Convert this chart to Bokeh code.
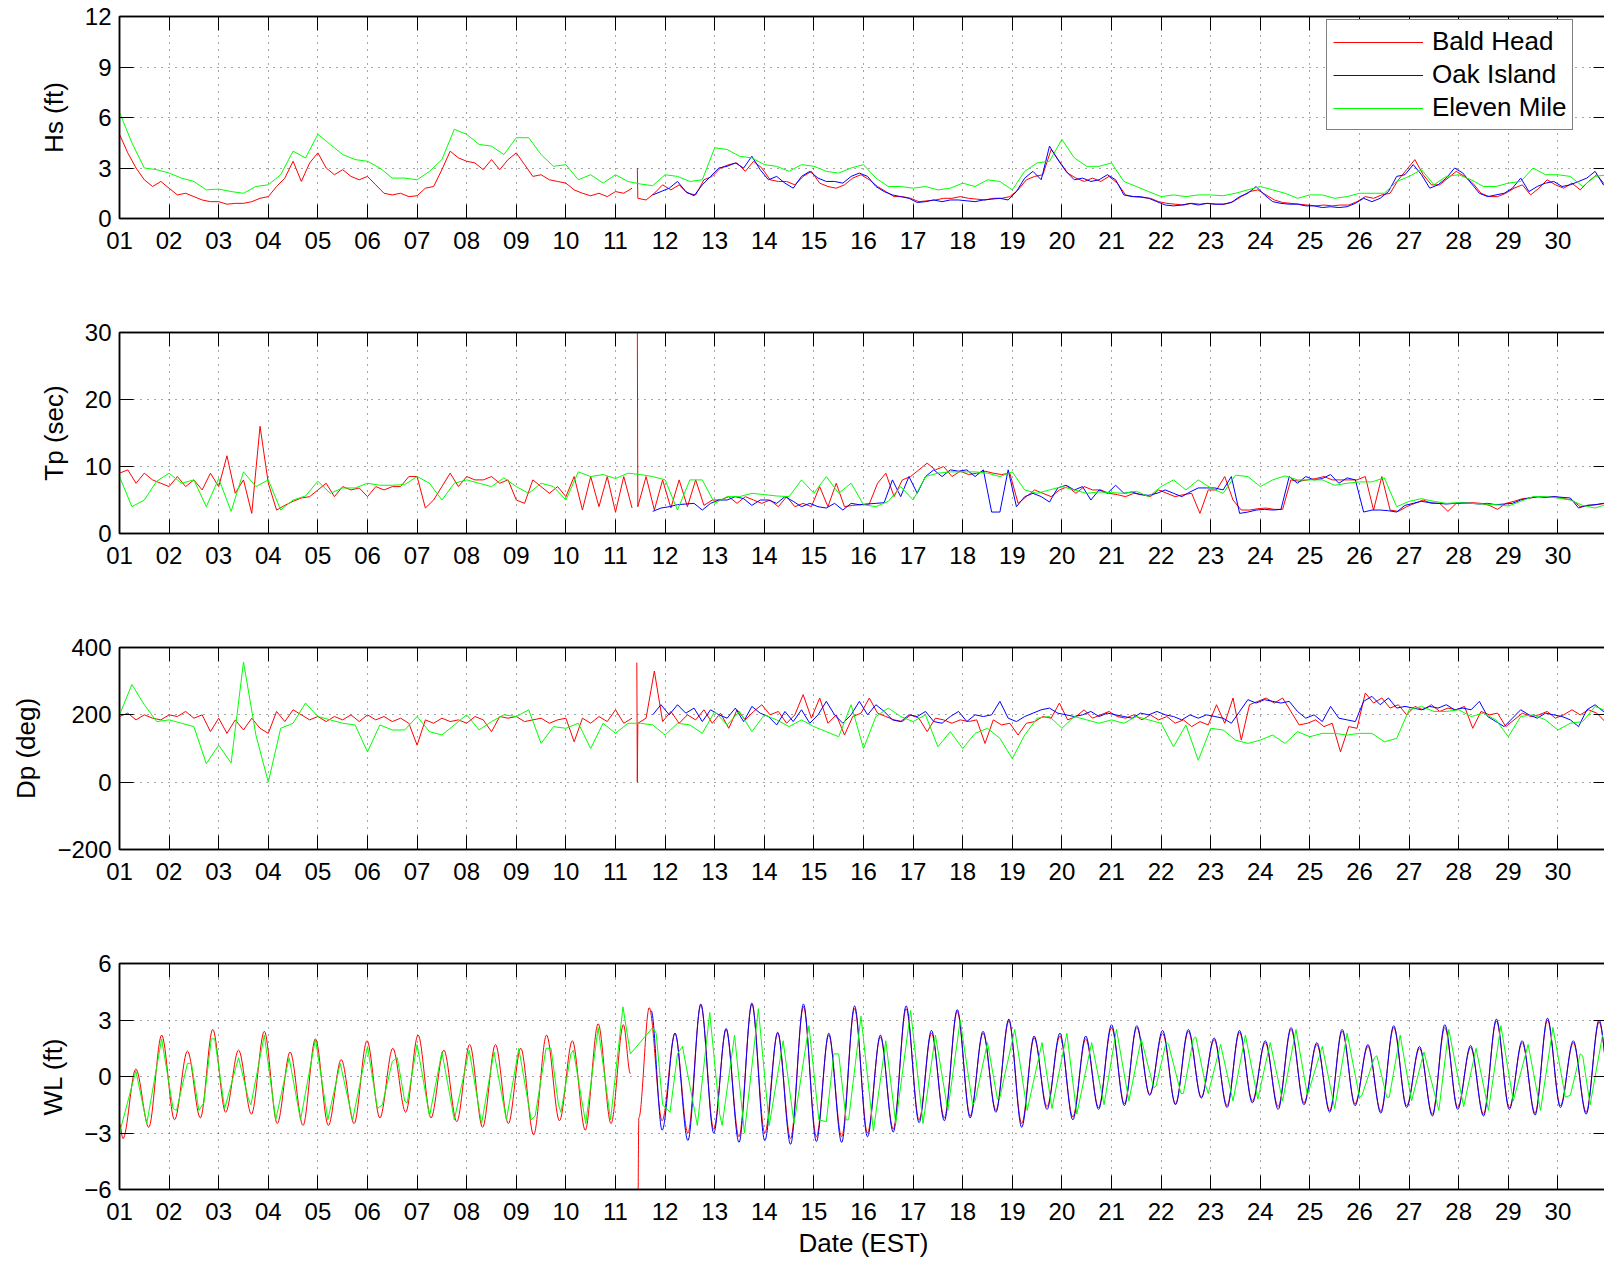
import numpy as np
from bokeh.plotting import figure
from bokeh.models import Range1d, FixedTicker, LinearAxis, Legend, LegendItem
from bokeh.layouts import column
from bokeh.embed import file_html
from bokeh.resources import INLINE

FONT = "Liberation Sans"
RED, BLUE, GREEN = "#ff0000", "#0000ff", "#00ff00"

# ---------------- x axis: days ----------------
DAYS = list(range(1, 31))
DAY_LABELS = ["%02d" % d for d in DAYS]
STEP_BH = 1.0 / 6.0      # Bald Head / Oak Island sampling (days)
STEP_EM = 0.25           # Eleven Mile sampling (days)
BH_A_START = 1.0
BH_B_START = 11.45
OAK_START = 11.75
EM_START = 1.0

# ---------------- Hs (ft) ----------------
HS_BALD_A = [5.0, 3.9, 3.0, 2.3, 1.9, 2.2,
             1.8, 1.4, 1.5, 1.3, 1.1, 1.0,
             1.0, 0.85, 0.9, 0.9, 1.0, 1.2,
             1.3, 1.9, 2.4, 3.4, 2.2, 3.3,
             3.9, 3.0, 2.6, 2.9, 2.5, 2.3,
             2.5, 2.0, 1.5, 1.4, 1.5, 1.3,
             1.35, 1.8, 1.9, 2.9, 4.0, 3.6,
             3.4, 3.3, 2.9, 3.5, 2.9, 3.5,
             3.9, 3.2, 2.5, 2.6, 2.3, 2.2,
             2.1, 1.7, 1.5, 1.35, 1.5, 1.3,
             1.6, 1.5, 1.8]
HS_BALD_HEAD_T = [11.44]
HS_BALD_HEAD = [3.0]
HS_BALD_B = [1.2, 1.1, 1.5, 2.0, 1.7, 2.0,
             1.5, 1.4, 2.3, 2.5, 3.0, 3.2,
             3.3, 2.8, 3.4, 3.0, 2.3, 2.2,
             2.2, 2.0, 2.5, 2.8, 2.1, 1.9,
             1.8, 2.0, 2.4, 2.6, 2.3, 1.9,
             1.6, 1.3, 1.3, 1.2, 1.0, 1.05,
             1.1, 1.2, 1.2, 1.3, 1.2, 1.15,
             1.1, 1.2, 1.2, 1.3, 1.7, 2.3,
             2.5, 2.6, 4.1, 3.4, 2.7, 2.4,
             2.2, 2.4, 2.2, 2.5, 2.1, 1.4,
             1.3, 1.25, 1.2, 1.0, 0.9, 0.85,
             0.8, 0.9, 0.85, 0.9, 0.85, 0.85,
             1.0, 1.3, 1.6, 1.7, 1.4, 1.1,
             0.95, 0.9, 0.85, 0.8, 0.75, 0.8,
             0.75, 0.8, 0.8, 1.0, 1.3, 1.2,
             1.4, 1.5, 2.3, 2.9, 3.5, 2.6,
             2.0, 2.0, 2.4, 2.8, 2.5, 2.1,
             1.5, 1.3, 1.3, 1.5, 1.8, 2.0,
             1.4, 1.8, 2.3, 2.0, 1.8, 2.1,
             1.7, 2.2, 2.6, 2.0, 2.2]
HS_OAK = [1.4, 1.6, 1.8, 2.2, 1.6, 1.35,
          2.0, 2.5, 3.0, 3.1, 3.3, 3.0,
          3.7, 2.9, 2.3, 2.5, 2.1, 1.8,
          2.5, 2.8, 2.4, 2.2, 2.2, 2.1,
          2.5, 2.7, 2.5, 1.9, 1.6, 1.4,
          1.3, 1.2, 0.95, 1.0, 1.1, 1.0,
          1.1, 1.1, 1.05, 1.0, 1.1, 1.15,
          1.2, 1.1, 1.6, 2.4, 2.8, 2.3,
          4.3, 3.5, 2.8, 2.3, 2.4, 2.2,
          2.3, 2.6, 2.3, 1.4, 1.3, 1.3,
          1.2, 1.0, 0.8, 0.75, 0.8, 0.9,
          0.8, 0.9, 0.85, 0.85, 0.95, 1.3,
          1.5, 1.9, 1.4, 1.0, 0.9, 0.85,
          0.85, 0.75, 0.75, 0.65, 0.7, 0.65,
          0.7, 0.9, 1.2, 1.0, 1.2, 1.6,
          2.5, 2.6, 3.2, 2.6, 1.8, 2.0,
          2.4, 3.0, 2.7, 2.1, 1.5, 1.3,
          1.4, 1.5, 1.8, 2.4, 1.6, 1.9,
          2.1, 2.2, 1.9, 2.0, 2.2, 2.4,
          2.8, 2.0, 2.2]
HS_ELEVEN = [6.3, 4.5, 3.0, 2.9,
             2.7, 2.4, 2.2, 1.7,
             1.75, 1.6, 1.5, 1.9,
             2.0, 2.6, 4.0, 3.6,
             5.0, 4.4, 3.8, 3.5,
             3.4, 3.0, 2.4, 2.4,
             2.3, 2.8, 3.5, 5.3,
             5.0, 4.4, 4.3, 3.8,
             4.8, 4.8, 3.8, 3.1,
             3.2, 2.3, 2.6, 2.1,
             2.6, 2.2, 2.05, 1.95,
             2.6, 2.5, 2.2, 2.3,
             4.2, 4.1, 3.7, 3.6,
             3.2, 3.1, 2.8, 3.2,
             3.1, 2.8, 2.7, 3.0,
             3.2, 2.4, 1.9, 1.9,
             1.8, 1.9, 1.7, 1.8,
             2.1, 1.9, 2.3, 2.2,
             1.7, 2.8, 3.3, 3.4,
             4.7, 3.6, 3.1, 3.1,
             3.3, 2.2, 1.9, 1.6,
             1.3, 1.4, 1.3, 1.4,
             1.4, 1.35, 1.5, 1.7,
             1.9, 1.7, 1.5, 1.2,
             1.4, 1.4, 1.2, 1.3,
             1.5, 1.5, 1.5, 2.2,
             2.5, 2.9, 2.0, 2.5,
             2.6, 2.3, 1.9, 1.9,
             2.1, 2.2, 3.0, 2.6,
             2.6, 2.5, 1.9, 2.5,
             2.6]

# ---------------- Tp (sec) ----------------
TP_BALD_A = [9.0, 9.5, 7.5, 9.0, 8.0, 7.5,
             7.0, 8.5, 7.0, 8.0, 6.5, 9.0,
             7.0, 11.6, 6.0, 8.0, 3.0, 16.0,
             7.5, 3.5, 4.2, 4.8, 5.3, 5.5,
             6.5, 7.5, 5.5, 7.0, 6.5, 6.8,
             5.5, 7.0, 6.5, 7.0, 7.0, 8.5,
             8.5, 3.8, 5.0, 7.0, 9.0, 7.0,
             8.5, 8.0, 8.0, 8.5, 7.5, 8.0,
             5.0, 4.5, 8.0, 7.0, 6.0, 7.0,
             5.5, 8.5, 3.5, 8.5, 4.0, 8.5,
             3.2, 8.5, 3.8]
TP_BALD_HEAD_T = [11.44]
TP_BALD_HEAD = [31.0]
TP_BALD_B = [4.0, 8.5, 3.5, 8.0, 3.8, 8.0,
             4.0, 8.0, 4.2, 5.0, 5.0, 5.5,
             4.5, 5.5, 5.0, 4.5, 5.0, 4.0,
             5.5, 4.0, 4.5, 4.0, 7.0, 4.0,
             7.5, 4.0, 4.2, 4.3, 4.4, 7.5,
             9.0, 5.5, 8.0, 8.5, 9.5, 10.5,
             9.5, 10.0, 8.5, 9.3, 8.8, 9.0,
             9.3, 9.0, 8.8, 9.0, 4.5, 5.5,
             6.5, 6.0, 5.5, 6.5, 7.0, 6.0,
             7.0, 6.5, 6.5, 6.0, 5.8, 5.5,
             6.0, 5.8, 5.5, 6.5, 6.0, 5.5,
             5.8, 6.0, 3.0, 6.5, 6.5, 8.5,
             5.0, 3.5, 3.5, 3.7, 3.8, 3.6,
             3.6, 8.0, 7.8, 8.0, 8.2, 8.5,
             8.0, 8.0, 8.0, 8.0, 8.5, 3.5,
             8.5, 3.5, 3.3, 4.0, 4.5, 5.0,
             4.5, 4.5, 3.3, 4.5, 4.5, 4.6,
             4.5, 4.2, 3.6, 4.5, 4.8, 5.2,
             5.3, 5.5, 5.4, 5.5, 5.2, 5.0,
             4.0, 4.2, 4.3, 4.5, 4.5]
TP_OAK = [3.3, 3.8, 4.0, 4.3, 4.4, 4.5,
          3.5, 4.5, 5.0, 5.0, 5.5, 5.2,
          4.2, 5.0, 5.0, 4.5, 5.5, 4.8,
          4.0, 4.5, 4.0, 3.8, 4.5, 3.5,
          4.5, 4.3, 4.4, 4.5, 4.6, 8.0,
          5.5, 8.5, 6.0, 8.5, 9.5, 8.5,
          9.5, 9.3, 9.5, 8.5, 9.5, 3.2,
          3.2, 9.5, 4.0, 5.5, 6.0, 5.5,
          4.7, 6.8, 7.2, 6.5, 7.0, 5.0,
          6.5, 6.0, 7.2, 6.0, 6.2, 5.8,
          5.7, 6.0, 6.5, 6.0, 5.5, 6.2,
          6.8, 6.8, 6.8, 6.5, 8.5, 3.0,
          3.2, 3.5, 3.6, 3.5, 3.6, 8.5,
          7.5, 8.5, 8.0, 8.2, 8.8, 7.5,
          8.3, 8.0, 3.2, 3.5, 3.5, 3.4,
          3.2, 4.2, 4.5, 4.8, 4.6, 4.5,
          4.4, 4.5, 4.6, 4.5, 4.4, 4.5,
          4.3, 4.4, 4.5, 5.0, 5.3, 5.5,
          5.4, 5.5, 5.4, 5.3, 3.8, 4.2,
          4.3, 4.5, 4.5]
TP_ELEVEN = [8.5, 4.0, 5.0, 7.8,
             9.0, 7.5, 8.0, 4.0,
             8.2, 3.3, 9.2, 7.0,
             8.0, 3.5, 5.0, 5.6,
             7.8, 6.0, 6.8, 6.8,
             7.5, 7.2, 7.2, 7.3,
             8.5, 7.5, 5.0, 7.5,
             8.0, 7.5, 7.0, 8.3,
             7.0, 6.0, 7.5, 7.0,
             5.0, 9.2, 8.5, 8.8,
             8.2, 9.0, 8.8, 8.5,
             8.0, 3.5, 8.0, 8.0,
             4.5, 5.5, 5.5, 6.0,
             5.8, 5.6, 5.5, 8.0,
             6.0, 8.5, 6.0, 7.5,
             4.3, 4.0, 4.8, 7.0,
             5.0, 8.5, 9.0, 9.2,
             9.2, 9.2, 9.0, 8.5,
             9.2, 6.5, 6.0, 6.5,
             7.0, 6.5, 6.0, 6.2,
             6.1, 6.0, 6.3, 5.5,
             7.0, 8.0, 6.5, 8.0,
             6.8, 6.0, 8.7, 8.5,
             7.0, 8.0, 8.6, 8.0,
             8.0, 8.0, 7.2, 7.5,
             7.7, 7.7, 8.3, 4.0,
             4.8, 5.2, 4.8, 4.5,
             4.6, 4.5, 4.4, 4.3,
             4.1, 4.8, 5.5, 5.5,
             5.3, 5.0, 4.2, 3.8,
             4.4]

# ---------------- Dp (deg) ----------------
DP_BALD_A = [195, 205, 185, 200, 190, 185,
             200, 195, 210, 190, 200, 150,
             190, 145, 185, 155, 190, 160,
             145, 210, 180, 215, 200, 185,
             195, 180, 195, 185, 200, 180,
             200, 185, 195, 180, 190, 175,
             110, 185, 175, 190, 180, 185,
             175, 195, 185, 150, 195, 190,
             195, 180, 185, 190, 175, 185,
             190, 120, 190, 175, 195, 180,
             215, 175, 190]
DP_BALD_HEAD_T = [11.43, 11.44]
DP_BALD_HEAD = [355, 0]
DP_BALD_B = [175, 190, 330, 180, 210, 175,
             200, 185, 215, 175, 205, 160,
             215, 185, 210, 230, 200, 210,
             175, 200, 260, 190, 250, 175,
             200, 140, 195, 205, 250, 205,
             195, 185, 180, 200, 190, 150,
             190, 185, 175, 185, 180, 185,
             115, 185, 170, 175, 140, 175,
             180, 195, 190, 235, 185, 195,
             215, 190, 200, 210, 195, 190,
             200, 185, 200, 185, 195, 175,
             185, 165, 180, 170, 230, 175,
             250, 125, 230, 240, 250, 235,
             250, 210, 170, 175, 185, 165,
             175, 90, 165, 160, 265, 235,
             250, 220, 230, 200, 225, 215,
             230, 210, 220, 215, 225, 160,
             210, 200, 205, 165, 185, 205,
             195, 200, 210, 190, 200, 215,
             200, 215, 205, 180, 200]
DP_OAK = [200, 230, 200, 230, 205, 220,
          180, 215, 200, 190, 220, 180,
          225, 205, 195, 170, 210, 180,
          215, 175, 200, 240, 200, 175,
          200, 240, 200, 230, 210, 185,
          180, 200, 195, 210, 180, 175,
          195, 210, 180, 200, 195, 200,
          240, 190, 180, 195, 205, 215,
          220, 205, 200, 195, 200, 210,
          195, 205, 200, 195, 190, 205,
          200, 210, 200, 195, 185, 200,
          190, 200, 195, 190, 175, 210,
          245, 235, 245, 240, 235, 240,
          210, 190, 200, 180, 225, 190,
          185, 180, 240, 255, 230, 250,
          220, 225, 220, 215, 225, 220,
          230, 215, 220, 215, 240, 195,
          180, 165, 190, 215, 200, 190,
          205, 200, 195, 185, 165, 215,
          230, 210, 205]
DP_ELEVEN = [200, 290, 230, 180,
             185, 175, 165, 55,
             110, 57, 357, 140,
             0, 160, 175, 235,
             195, 185, 175, 170,
             90, 170, 155, 155,
             195, 150, 140, 170,
             200, 155, 180, 200,
             195, 215, 115, 165,
             160, 175, 100, 175,
             145, 175, 175, 170,
             140, 175, 170, 145,
             210, 170, 210, 150,
             200, 185, 165, 185,
             165, 150, 135, 230,
             100, 195, 220, 195,
             180, 200, 105, 150,
             100, 145, 160, 130,
             70, 140, 190, 195,
             160, 195, 185, 175,
             185, 175, 195, 185,
             175, 105, 170, 65,
             160, 155, 125, 115,
             125, 140, 115, 150,
             135, 145, 145, 140,
             145, 145, 120, 130,
             215, 225, 210, 210,
             215, 195, 205, 185,
             135, 195, 200, 185,
             155, 175, 180, 225,
             210]

# ---------------- WL (ft): (day, value) at tide turning points ----------------
WL_BALD_A = [(1.00, -2.5), (1.07, -3.3), (1.33, 0.4), (1.59, -2.7), (1.85, 2.2), (2.11, -2.3),
             (2.37, 1.35), (2.63, -2.2), (2.88, 2.5), (3.14, -1.9), (3.40, 1.4), (3.66, -2.0),
             (3.92, 2.4), (4.18, -2.5), (4.44, 1.3), (4.70, -2.6), (4.95, 2.0), (5.21, -2.6),
             (5.47, 0.9), (5.73, -2.5), (5.99, 1.9), (6.25, -2.2), (6.51, 1.5), (6.77, -1.9),
             (7.02, 2.2), (7.28, -2.2), (7.54, 1.4), (7.80, -2.4), (8.06, 1.7), (8.32, -2.7),
             (8.58, 1.7), (8.84, -2.5), (9.09, 1.5), (9.35, -3.1), (9.61, 2.2), (9.87, -2.35),
             (10.13, 1.9), (10.39, -2.85), (10.65, 2.8), (10.91, -2.5), (11.16, 2.75), (11.30, 0.15)]
WL_BALD_B = [(11.45, -7.5), (11.47, -2.2), (11.68, 3.65), (11.94, -2.35), (12.20, 2.3), (12.46, -3.0),
             (12.72, 3.8), (12.98, -2.8), (13.23, 2.5), (13.49, -3.2), (13.75, 3.85), (14.01, -3.0),
             (14.27, 2.3), (14.53, -3.3), (14.79, 3.7), (15.05, -3.2), (15.30, 2.2), (15.56, -3.2),
             (15.82, 3.6), (16.08, -3.0), (16.34, 2.1), (16.60, -2.8), (16.86, 3.6), (17.12, -2.3),
             (17.37, 2.3), (17.63, -2.2), (17.89, 3.45), (18.15, -2.1), (18.41, 2.3), (18.67, -1.8),
             (18.93, 2.95), (19.19, -2.5), (19.44, 2.05), (19.70, -1.6), (19.96, 2.15), (20.22, -2.15),
             (20.48, 2.0), (20.74, -1.65), (21.00, 2.6), (21.26, -1.45), (21.51, 2.6), (21.77, -0.95),
             (22.03, 2.3), (22.29, -1.45), (22.55, 2.4), (22.81, -1.1), (23.07, 1.95), (23.33, -1.55),
             (23.58, 2.35), (23.84, -1.3), (24.10, 1.8), (24.36, -1.6), (24.62, 2.5), (24.88, -1.4),
             (25.14, 1.7), (25.40, -1.8), (25.65, 2.4), (25.91, -1.45), (26.17, 1.6), (26.43, -1.85),
             (26.69, 2.6), (26.95, -1.55), (27.21, 1.5), (27.47, -2.0), (27.72, 2.6), (27.98, -1.65),
             (28.24, 1.55), (28.50, -2.0), (28.76, 2.95), (29.02, -1.65), (29.28, 1.8), (29.54, -1.95),
             (29.79, 3.0), (30.05, -1.55), (30.31, 1.8), (30.57, -1.9), (30.83, 2.9), (31.09, -1.5)]
WL_OAK = [(11.72, 3.5), (11.94, -2.85), (12.20, 2.3), (12.46, -3.4), (12.72, 3.85), (12.98, -3.0),
          (13.23, 2.55), (13.49, -3.5), (13.75, 3.9), (14.01, -3.4), (14.27, 2.35), (14.53, -3.6),
          (14.79, 3.85), (15.05, -3.45), (15.30, 2.3), (15.56, -3.5), (15.82, 3.75), (16.08, -3.2),
          (16.34, 2.2), (16.60, -2.95), (16.86, 3.75), (17.12, -2.45), (17.37, 2.45), (17.63, -2.35),
          (17.89, 3.55), (18.15, -2.2), (18.41, 2.4), (18.67, -1.9), (18.93, 3.05), (19.19, -2.7),
          (19.44, 2.15), (19.70, -1.75), (19.96, 2.3), (20.22, -2.3), (20.48, 2.15), (20.74, -1.75),
          (21.00, 2.75), (21.26, -1.55), (21.51, 2.7), (21.77, -1.0), (22.03, 2.45), (22.29, -1.5),
          (22.55, 2.5), (22.81, -1.15), (23.07, 2.05), (23.33, -1.65), (23.58, 2.45), (23.84, -1.4),
          (24.10, 1.9), (24.36, -1.75), (24.62, 2.6), (24.88, -1.5), (25.14, 1.8), (25.40, -1.9),
          (25.65, 2.5), (25.91, -1.55), (26.17, 1.7), (26.43, -1.95), (26.69, 2.7), (26.95, -1.65),
          (27.21, 1.6), (27.47, -2.1), (27.72, 2.75), (27.98, -1.75), (28.24, 1.65), (28.50, -2.1),
          (28.76, 3.05), (29.02, -1.75), (29.28, 1.9), (29.54, -2.05), (29.79, 3.1), (30.05, -1.65),
          (30.31, 1.9), (30.57, -2.0), (30.83, 3.0), (31.09, -1.6)]
WL_ELEVEN = [(1.00, -3.0), (1.33, 0.3), (1.55, -2.5), (1.85, 2.0), (2.08, -1.7), (2.15, -1.8),
             (2.37, 0.7), (2.45, 0.7), (2.60, -1.8), (2.70, -1.4), (2.85, 2.0), (2.92, 2.0),
             (3.12, -1.7), (3.40, 1.0), (3.60, -1.2), (3.65, -1.5), (3.92, 2.2), (4.15, -2.3),
             (4.42, 1.0), (4.65, -2.3), (4.95, 2.0), (5.20, -2.3), (5.45, 0.7), (5.70, -2.3),
             (6.00, 1.6), (6.20, -1.7), (6.30, -1.5), (6.50, 0.8), (6.60, 1.0), (6.75, -1.3),
             (6.80, -1.4), (7.00, 1.7), (7.25, -2.1), (7.50, 1.3), (7.75, -2.3), (8.05, 1.4),
             (8.30, -2.5), (8.55, 1.3), (8.80, -2.3), (9.05, 1.5), (9.30, -2.3), (9.38, -2.1),
             (9.60, 1.5), (9.70, 1.5), (9.85, -1.5), (9.90, -1.9), (10.10, 1.2), (10.15, 1.4),
             (10.40, -2.5), (10.65, 2.6), (10.90, -2.3), (11.15, 3.7), (11.30, 1.2), (11.75, 2.6),
             (11.82, 2.3), (11.95, -1.5), (12.10, -1.9), (12.25, 1.2), (12.35, 1.6), (12.60, -1.9),
             (12.65, -2.6), (12.90, 3.4), (13.10, -2.0), (13.15, -2.6), (13.40, 2.2), (13.60, -3.0),
             (13.88, 3.6), (14.10, -2.6), (14.38, 1.9), (14.60, -2.5), (14.90, 2.7), (15.10, -2.3),
             (15.25, -2.4), (15.40, 1.2), (15.50, 1.2), (15.65, -2.3), (15.70, -2.3), (15.95, 3.2),
             (16.20, -2.9), (16.45, 1.9), (16.65, -2.5), (16.95, 3.5), (17.20, -2.5), (17.45, 2.2),
             (17.70, -1.8), (17.95, 3.0), (18.20, -1.5), (18.25, -1.3), (18.50, 1.8), (18.70, -1.2),
             (18.75, -1.1), (19.05, 2.5), (19.30, -1.8), (19.60, 1.8), (19.80, -1.7), (20.10, 2.3),
             (20.30, -2.0), (20.60, 1.8), (20.85, -1.5), (21.10, 2.5), (21.35, -1.3), (21.60, 2.0),
             (21.85, -0.6), (21.90, -0.5), (22.10, 1.8), (22.15, 1.7), (22.40, -0.9), (22.45, -0.9),
             (22.65, 2.0), (22.70, 2.1), (22.90, -0.5), (22.95, -0.9), (23.20, 1.7), (23.45, -1.3),
             (23.70, 2.2), (23.95, -1.2), (24.20, 1.8), (24.45, -1.3), (24.72, 2.5), (24.95, -1.0),
             (25.25, 1.6), (25.50, -1.7), (25.75, 2.3), (26.00, -1.1), (26.05, -1.0), (26.30, 1.0),
             (26.35, 1.1), (26.55, -1.1), (26.60, -1.1), (26.82, 2.2), (27.05, -1.3), (27.30, 1.3),
             (27.60, -1.8), (27.80, 2.5), (28.10, -1.6), (28.35, 1.5), (28.60, -1.8), (28.85, 2.7),
             (29.10, -1.3), (29.40, 1.7), (29.65, -1.8), (29.90, 2.6), (30.15, -1.1), (30.25, -1.0),
             (30.45, 1.2), (30.50, 1.1), (30.65, -1.5), (30.90, 2.2)]

# ---------------- helpers ----------------
def regular(t0, step, vals):
    v = np.asarray(vals, dtype=float)
    return t0 + step * np.arange(len(v)), v


def bald(a_vals, head_t, head_v, b_vals):
    ta, va = regular(BH_A_START, STEP_BH, a_vals)
    tb, vb = regular(BH_B_START, STEP_BH, b_vals)
    t = np.concatenate([ta, [np.nan], np.asarray(head_t, float), tb])
    v = np.concatenate([va, [np.nan], np.asarray(head_v, float), vb])
    return t, v


def pairs(*segs):
    ts, vs = [], []
    for i, seg in enumerate(segs):
        if i:
            ts.append(np.nan)
            vs.append(np.nan)
        for t, v in seg:
            ts.append(t)
            vs.append(v)
    return np.array(ts, float), np.array(vs, float)


def tide_curve(p, seg, color):
    # smooth curve through the tide turning points (flat tangent at each turning point)
    t = np.array([a for a, _ in seg], float)
    v = np.array([b for _, b in seg], float)
    dt = t[1:] - t[:-1]
    return p.bezier(x0=t[:-1], y0=v[:-1], x1=t[1:], y1=v[1:],
                    cx0=t[:-1] + dt / 3.0, cy0=v[:-1], cx1=t[1:] - dt / 3.0, cy1=v[1:],
                    line_color=color, line_width=1)


def style_axis(ax, hidden_labels=False):
    ax.axis_line_color = "black"
    ax.axis_line_width = 1.5
    ax.major_tick_line_color = "black"
    ax.major_tick_line_width = 1
    ax.major_tick_in = 14
    ax.major_tick_out = 0
    ax.minor_tick_in = 0
    ax.minor_tick_out = 0
    ax.major_label_text_font = FONT
    ax.major_label_text_font_size = "24px"
    ax.major_label_text_color = "black"
    ax.axis_label_text_font = FONT
    ax.axis_label_text_font_size = "26px"
    ax.axis_label_text_font_style = "normal"
    ax.axis_label_text_color = "black"
    if hidden_labels:
        ax.major_label_text_font_size = "1px"
        ax.major_label_text_alpha = 0
        ax.major_label_standoff = 0


LEFT = 119
FRAME_W = 1488
W = LEFT + FRAME_W + 10


def panel(ylabel, y0, y1, yticks, ylabels, frame_h, top_b, bottom_b, xlabel=None):
    p = figure(width=W, height=top_b + frame_h + bottom_b,
               x_range=Range1d(1, 31), y_range=Range1d(y0, y1),
               output_backend="svg", toolbar_location=None,
               min_border_left=LEFT, min_border_right=W - LEFT - FRAME_W,
               min_border_top=top_b, min_border_bottom=bottom_b)
    p.background_fill_color = "white"
    p.border_fill_color = "white"
    p.outline_line_color = "black"
    p.outline_line_width = 1.5
    xt = FixedTicker(ticks=DAYS)
    yt = FixedTicker(ticks=yticks)
    p.xaxis.ticker = xt
    p.xaxis.major_label_overrides = dict(zip(DAYS, DAY_LABELS))
    p.xaxis.major_label_standoff = 13
    p.yaxis.ticker = yt
    p.yaxis.major_label_overrides = dict(zip(yticks, ylabels))
    p.yaxis.major_label_standoff = 8
    p.yaxis.axis_label = ylabel
    p.yaxis.axis_label_standoff = 13
    if xlabel:
        p.xaxis.axis_label = xlabel
        p.xaxis.axis_label_standoff = 5
    for ax in p.xaxis + p.yaxis:
        style_axis(ax)
    top = LinearAxis(ticker=FixedTicker(ticks=DAYS))
    style_axis(top, hidden_labels=True)
    p.add_layout(top, "above")
    right = LinearAxis(ticker=FixedTicker(ticks=yticks))
    style_axis(right, hidden_labels=True)
    p.add_layout(right, "right")
    p.xgrid.ticker = xt
    p.ygrid.ticker = yt
    p.grid.grid_line_color = "#222222"
    p.grid.grid_line_alpha = 0.8
    p.grid.grid_line_dash = "1 6"
    p.grid.grid_line_width = 1
    return p


def draw(p, bh, oak, em):
    r1 = p.line(bh[0], bh[1], line_color=RED, line_width=1)
    r2 = p.line(oak[0], oak[1], line_color=BLUE, line_width=1)
    r3 = p.line(em[0], em[1], line_color=GREEN, line_width=1)
    return r1, r2, r3


# ---------------- panels ----------------
p1 = panel("Hs (ft)", 0, 12, [0, 3, 6, 9, 12], ["0", "3", "6", "9", "12"], 202, 16, 58)
r1, r2, r3 = draw(p1,
                  bald(HS_BALD_A, HS_BALD_HEAD_T, HS_BALD_HEAD, HS_BALD_B),
                  regular(OAK_START, STEP_BH, HS_OAK),
                  regular(EM_START, STEP_EM, HS_ELEVEN))
legend = Legend(items=[LegendItem(label="Bald Head", renderers=[r1]),
                       LegendItem(label="Oak Island", renderers=[r2]),
                       LegendItem(label="Eleven Mile", renderers=[r3])],
                location=(1207, 88))
legend.border_line_color = "black"
legend.border_line_width = 1.5
legend.background_fill_color = "white"
legend.background_fill_alpha = 1
legend.padding = 6
legend.spacing = 2
legend.margin = 0
legend.glyph_width = 90
legend.glyph_height = 26
legend.label_height = 26
legend.label_standoff = 9
legend.label_text_font = FONT
legend.label_text_font_size = "26px"
legend.label_text_color = "black"
p1.add_layout(legend, "center")

p2 = panel("Tp (sec)", 0, 30, [0, 10, 20, 30], ["0", "10", "20", "30"], 201, 56, 58)
draw(p2,
     bald(TP_BALD_A, TP_BALD_HEAD_T, TP_BALD_HEAD, TP_BALD_B),
     regular(OAK_START, STEP_BH, TP_OAK),
     regular(EM_START, STEP_EM, TP_ELEVEN))

p3 = panel("Dp (deg)", -200, 400, [-200, 0, 200, 400], ["\u2212200", "0", "200", "400"], 202, 56, 58)
draw(p3,
     bald(DP_BALD_A, DP_BALD_HEAD_T, DP_BALD_HEAD, DP_BALD_B),
     regular(OAK_START, STEP_BH, DP_OAK),
     regular(EM_START, STEP_EM, DP_ELEVEN))

p4 = panel("WL (ft)", -6, 6, [-6, -3, 0, 3, 6], ["\u22126", "\u22123", "0", "3", "6"], 226, 56, 78,
           xlabel="Date (EST)")
tide_curve(p4, WL_BALD_A, RED)
tide_curve(p4, WL_BALD_B, RED)
tide_curve(p4, WL_OAK, BLUE)
em_t, em_v = pairs(WL_ELEVEN)
p4.line(em_t, em_v, line_color=GREEN, line_width=1)

layout = column(p1, p2, p3, p4, spacing=0)

html = file_html(layout, INLINE, title="Wave and water level")
html = html.replace("</head>", "<style>html, body { overflow: hidden; }</style></head>", 1)
open("out.html", "w").write(html)
